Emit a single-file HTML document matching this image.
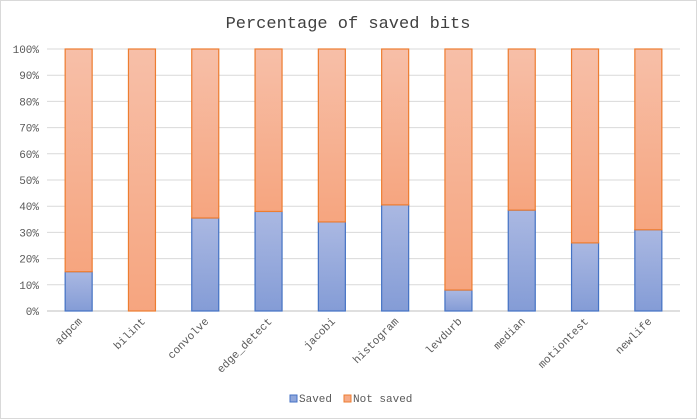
<!DOCTYPE html>
<html><head><meta charset="utf-8"><style>
html,body{margin:0;padding:0;background:#fff}
svg{display:block}
text{font-family:"Liberation Mono","DejaVu Sans Mono",monospace}
</style></head><body>
<svg id="chart" width="697" height="419" viewBox="0 0 697 419">
<defs>
<linearGradient id="gb" x1="0" y1="0" x2="0" y2="1"><stop offset="0" stop-color="#aab8e2"/><stop offset="1" stop-color="#849cd6"/></linearGradient>
<linearGradient id="go" x1="0" y1="0" x2="0" y2="1"><stop offset="0" stop-color="#f7bfa8"/><stop offset="1" stop-color="#f6a57f"/></linearGradient>
</defs>
<rect x="0.5" y="0.5" width="696" height="418" fill="#fff" stroke="#d9d9d9"/>
<text x="348" y="28" text-anchor="middle" font-size="17" fill="#404040">Percentage of saved bits</text>
<g id="grid"></g><g id="bars"></g><g id="xlabels"></g>
<g>
<g><rect x="290" y="395" width="7" height="7" fill="#8fa6db" stroke="#4472c4"/><text x="299" y="402" font-size="11" fill="#595959">Saved</text></g>
<g><rect x="344" y="395" width="7" height="7" fill="#f6ab88" stroke="#ed7d31"/><text x="353" y="402" font-size="11" fill="#595959">Not saved</text></g>
</g>
</svg>
<script>
const categories=["adpcm","bilint","convolve","edge_detect","jacobi","histogram","levdurb","median","motiontest","newlife"];
const savedValues=[15,0,35.5,38,34,40.5,8,38.5,26,31];
const notSavedValues=[85,100,64.5,62,66,59.5,92,61.5,74,69];
const yTicks=[0,10,20,30,40,50,60,70,80,90,100];
const NS="http://www.w3.org/2000/svg";
const x0=47,x1=680,y0=311,y1=49;
const bw=(x1-x0)/categories.length, barW=27;
const yS=v=>y0-(v/100)*(y0-y1);
const xC=i=>x0+bw*(i+0.5);
function mk(t,a,p){const e=document.createElementNS(NS,t);for(const k in a)e.setAttribute(k,a[k]);p.appendChild(e);return e;}
const grid=document.getElementById('grid');
yTicks.forEach(v=>{
  const l=mk('line',{x1:x0,x2:x1,y1:yS(v),y2:yS(v),stroke:v===0?'#bfbfbf':'#d9d9d9','stroke-width':1},grid);
  
  
  const t=mk('text',{x:39,y:yS(v)+4,'text-anchor':'end','font-size':11,fill:'#595959'},grid);
  t.textContent=v+'%';
  
  
});
const bars=document.getElementById('bars'),xl=document.getElementById('xlabels');
categories.forEach((c,i)=>{
  const cx=xC(i),s=savedValues[i],n=notSavedValues[i];
  if(s>0){const r=mk('rect',{x:cx-barW/2,y:yS(s),width:barW,height:yS(0)-yS(s),fill:'url(#gb)',stroke:'#4472c4','stroke-width':1.2},bars);
  
  }
  const r2=mk('rect',{x:cx-barW/2,y:yS(s+n),width:barW,height:yS(s)-yS(s+n),fill:'url(#go)',stroke:'#ed7d31','stroke-width':1.2},bars);
  
  
  const t=mk('text',{x:cx+4,y:322,'text-anchor':'end','font-size':11,fill:'#595959',transform:`rotate(-45 ${cx+4} 322)`},xl);
  t.textContent=c;
  
  
});
</script>
</body></html>
